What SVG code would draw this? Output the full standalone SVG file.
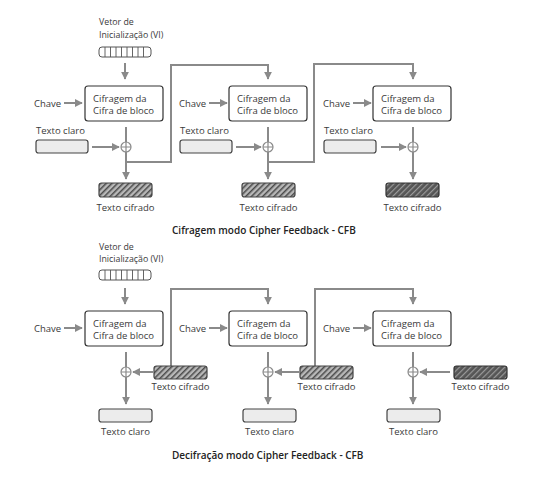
<svg xmlns="http://www.w3.org/2000/svg" width="550" height="479" viewBox="0 0 550 479">
<defs>
<style>
.t{font-family:"Open Sans","Noto Sans",sans-serif;font-size:9.5px;fill:#3a3a3a}
.s{font-size:8.8px}
.ti{font-family:"Open Sans","Noto Sans",sans-serif;font-size:10px;font-weight:600;fill:#222}
.c{fill:none;stroke:#8a8a8a;stroke-width:2}
.blk{fill:#fff;stroke:#333;stroke-width:1.2}
.pt{fill:#ececec;stroke:#444;stroke-width:1.2}
.ctl{fill:url(#hl);stroke:#444;stroke-width:1.2}
.ctd{fill:url(#hd);stroke:#333;stroke-width:1.2}
.iv{fill:#fff;stroke:#555;stroke-width:1}
.x{fill:#fff;stroke:#8a8a8a;stroke-width:1.2}
</style>
<marker id="ah" viewBox="0 0 10 10" refX="9" refY="5" markerWidth="8" markerHeight="8" orient="auto" markerUnits="userSpaceOnUse">
<path d="M0,0 L10,5 L0,10 z" fill="#8a8a8a"/>
</marker>
<pattern id="hl" width="4" height="4" patternUnits="userSpaceOnUse" patternTransform="rotate(45)">
<rect width="4" height="4" fill="#b8b8b8"/>
<rect width="1.5" height="4" fill="#4a4a4a"/>
</pattern>
<pattern id="hd" width="4" height="4" patternUnits="userSpaceOnUse" patternTransform="rotate(45)">
<rect width="4" height="4" fill="#555"/>
<rect width="1.2" height="4" fill="#999"/>
</pattern>
<g id="ivreg">
<rect class="iv" x="0" y="0" width="52" height="10" rx="3"/>
<path d="M6,0V10M11.5,0V10M17,0V10M22.5,0V10M28,0V10M33.5,0V10M39,0V10M44.5,0V10" stroke="#555" stroke-width="0.9"/>
</g>
<g id="xor">
<circle class="x" cx="0" cy="0" r="5"/>
<path d="M-5,0H5M0,-5V5" stroke="#8a8a8a" stroke-width="1.2"/>
</g>
</defs>
<rect width="550" height="479" fill="#fff"/>

<!-- ===== Encryption ===== -->
<g id="connectors-enc">
<path class="c" d="M125,63V79" marker-end="url(#ah)"/>
<path class="c" d="M64,103H82" marker-end="url(#ah)"/>
<path class="c" d="M209,103H227" marker-end="url(#ah)"/>
<path class="c" d="M353,103H371" marker-end="url(#ah)"/>
<path class="c" d="M126,127V179" marker-end="url(#ah)"/>
<path class="c" d="M268,127V179" marker-end="url(#ah)"/>
<path class="c" d="M413,127V179" marker-end="url(#ah)"/>
<path class="c" d="M92,147H119" marker-end="url(#ah)"/>
<path class="c" d="M236,147H261" marker-end="url(#ah)"/>
<path class="c" d="M381,147H406" marker-end="url(#ah)"/>
<path class="c" d="M126,162H171V65H268V79" marker-end="url(#ah)"/>
<path class="c" d="M268,162H314V64H413V79" marker-end="url(#ah)"/>
</g>

<g id="enc-iv">
<text class="t s" x="99" y="25">Vetor de</text>
<text class="t s" x="99" y="37.5">Inicialização (VI)</text>
<use href="#ivreg" x="99" y="47"/>
</g>
<g id="enc-block1">
<rect class="blk" x="85" y="86" width="78" height="35" rx="3"/>
<text class="t" x="93" y="101.5">Cifragem da</text>
<text class="t" x="93" y="114">Cifra de bloco</text>
<text class="t" x="34" y="106.5">Chave</text>
</g>
<g id="enc-block2">
<rect class="blk" x="229" y="86" width="78" height="35" rx="3"/>
<text class="t" x="237" y="101.5">Cifragem da</text>
<text class="t" x="237" y="114">Cifra de bloco</text>
<text class="t" x="179" y="106.5">Chave</text>
</g>
<g id="enc-block3">
<rect class="blk" x="373" y="86" width="78" height="35" rx="3"/>
<text class="t" x="381" y="101.5">Cifragem da</text>
<text class="t" x="381" y="114">Cifra de bloco</text>
<text class="t" x="323" y="106.5">Chave</text>
</g>
<g id="enc-pt1">
<text class="t" x="36" y="134">Texto claro</text>
<rect class="pt" x="36" y="140" width="52" height="13" rx="2.5"/>
</g>
<g id="enc-pt2">
<text class="t" x="180" y="134">Texto claro</text>
<rect class="pt" x="180" y="140" width="52" height="13" rx="2.5"/>
</g>
<g id="enc-pt3">
<text class="t" x="324" y="134">Texto claro</text>
<rect class="pt" x="324" y="140" width="52" height="13" rx="2.5"/>
</g>
<g id="enc-xor1"><use href="#xor" x="126" y="147"/></g>
<g id="enc-xor2"><use href="#xor" x="268" y="147"/></g>
<g id="enc-xor3"><use href="#xor" x="413" y="147"/></g>
<g id="enc-ct1">
<rect class="ctl" x="99" y="183" width="53" height="14" rx="2.5"/>
<text class="t" x="125.5" y="211" text-anchor="middle">Texto cifrado</text>
</g>
<g id="enc-ct2">
<rect class="ctl" x="242" y="183" width="53" height="14" rx="2.5"/>
<text class="t" x="268.5" y="211" text-anchor="middle">Texto cifrado</text>
</g>
<g id="enc-ct3">
<rect class="ctd" x="386" y="183" width="53" height="14" rx="2.5"/>
<text class="t" x="412.5" y="211" text-anchor="middle">Texto cifrado</text>
</g>
<text class="ti" x="172" y="234">Cifragem modo Cipher Feedback - CFB</text>

<!-- ===== Decryption ===== -->
<g id="connectors-dec">
<path class="c" d="M125,288V304" marker-end="url(#ah)"/>
<path class="c" d="M64,328H82" marker-end="url(#ah)"/>
<path class="c" d="M209,328H227" marker-end="url(#ah)"/>
<path class="c" d="M353,328H371" marker-end="url(#ah)"/>
<path class="c" d="M126,352V404" marker-end="url(#ah)"/>
<path class="c" d="M268,352V404" marker-end="url(#ah)"/>
<path class="c" d="M413,352V404" marker-end="url(#ah)"/>
<path class="c" d="M153,372H133" marker-end="url(#ah)"/>
<path class="c" d="M299,372H275" marker-end="url(#ah)"/>
<path class="c" d="M450,372H420" marker-end="url(#ah)"/>
<path class="c" d="M171,366V289H268V304" marker-end="url(#ah)"/>
<path class="c" d="M315,366V289H413V304" marker-end="url(#ah)"/>
</g>

<g id="dec-iv">
<text class="t s" x="99" y="249.5">Vetor de</text>
<text class="t s" x="99" y="262">Inicialização (VI)</text>
<use href="#ivreg" x="99" y="270"/>
</g>
<g id="dec-block1">
<rect class="blk" x="85" y="311" width="78" height="35" rx="3"/>
<text class="t" x="93" y="326.5">Cifragem da</text>
<text class="t" x="93" y="339">Cifra de bloco</text>
<text class="t" x="34" y="331.5">Chave</text>
</g>
<g id="dec-block2">
<rect class="blk" x="229" y="311" width="78" height="35" rx="3"/>
<text class="t" x="237" y="326.5">Cifragem da</text>
<text class="t" x="237" y="339">Cifra de bloco</text>
<text class="t" x="179" y="331.5">Chave</text>
</g>
<g id="dec-block3">
<rect class="blk" x="373" y="311" width="78" height="35" rx="3"/>
<text class="t" x="381" y="326.5">Cifragem da</text>
<text class="t" x="381" y="339">Cifra de bloco</text>
<text class="t" x="323" y="331.5">Chave</text>
</g>
<g id="dec-xor1"><use href="#xor" x="126" y="372"/></g>
<g id="dec-xor2"><use href="#xor" x="268" y="372"/></g>
<g id="dec-xor3"><use href="#xor" x="413" y="372"/></g>
<g id="dec-ct1">
<rect class="ctl" x="154" y="366" width="53" height="13" rx="2.5"/>
<text class="t" x="180.5" y="390" text-anchor="middle">Texto cifrado</text>
</g>
<g id="dec-ct2">
<rect class="ctl" x="300" y="366" width="53" height="13" rx="2.5"/>
<text class="t" x="326.5" y="390" text-anchor="middle">Texto cifrado</text>
</g>
<g id="dec-ct3">
<rect class="ctd" x="454" y="366" width="53" height="13" rx="2.5"/>
<text class="t" x="480.5" y="390" text-anchor="middle">Texto cifrado</text>
</g>
<g id="dec-pt1">
<rect class="pt" x="99" y="409" width="53" height="13" rx="2.5"/>
<text class="t" x="125.5" y="435" text-anchor="middle">Texto claro</text>
</g>
<g id="dec-pt2">
<rect class="pt" x="243" y="409" width="53" height="13" rx="2.5"/>
<text class="t" x="269.5" y="435" text-anchor="middle">Texto claro</text>
</g>
<g id="dec-pt3">
<rect class="pt" x="387" y="409" width="53" height="13" rx="2.5"/>
<text class="t" x="413.5" y="435" text-anchor="middle">Texto claro</text>
</g>
<text class="ti" x="172" y="459">Decifração modo Cipher Feedback - CFB</text>
</svg>
